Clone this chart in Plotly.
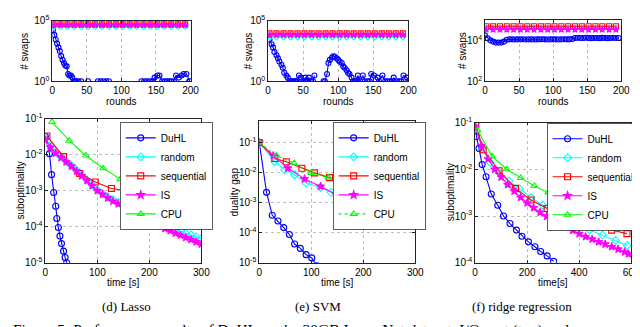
import plotly.graph_objects as go

W, H = 640, 327

# ---------------- top row: number of swaps per round ----------------
top_rounds = [2, 12, 22, 32, 42, 52, 62, 72, 82, 92, 102, 112, 122, 132, 142, 152, 162, 172, 182, 192]

# (a) Lasso swaps
lasso_sw_random = [35000, 35000, 35000, 35000, 35000, 35000, 35000, 35000, 35000, 35000,
                   35000, 35000, 35000, 35000, 35000, 35000, 35000, 35000, 35000, 35000]
lasso_sw_seq = [50000, 50000, 50000, 50000, 50000, 50000, 50000, 50000, 50000, 50000,
                50000, 50000, 50000, 50000, 50000, 50000, 50000, 50000, 50000, 50000]
lasso_sw_is = [45000, 45000, 45000, 45000, 45000, 45000, 45000, 45000, 45000, 45000,
               45000, 45000, 45000, 45000, 45000, 45000, 45000, 45000, 45000, 45000]
lasso_duhl_rounds = [1, 3, 5, 7, 9, 11, 13, 15, 17, 19, 21, 23, 25, 27, 29, 31, 33, 35, 38, 40,
                     42, 45, 52, 58, 66, 70, 74, 78, 82, 90, 129, 133, 137, 141, 145, 148, 152, 155, 159, 163,
                     166, 169, 172, 176, 179, 183, 187, 190, 194, 198, 199]
lasso_sw_duhl = [16600, 6800, 2800, 1300, 630, 310, 120, 58, 32, 20, 17, 4, 3, 3, 2, 1, 1, 1, 1, None,
                 1, None, 1, None, 1, 1, 1, 1, 1, None, 1, 1, 1, 1, 1, 2, 3, 3, 1, 1,
                 1, 1, 1, 1, 3, 2, 3, 4, 4, 1, 1]

# (b) SVM swaps
svm_sw_random = [4800, 4800, 4800, 4800, 4800, 4800, 4800, 4800, 4800, 4800,
                 4800, 4800, 4800, 4800, 4800, 4800, 4800, 4800, 4800, 4800]
svm_sw_seq = [9000, 9000, 9000, 9000, 9000, 9000, 9000, 9000, 9000, 9000,
              9000, 9000, 9000, 9000, 9000, 9000, 9000, 9000, 9000, 9000]
svm_sw_is = [6800, 6800, 6800, 6800, 6800, 6800, 6800, 6800, 6800, 6800,
             6800, 6800, 6800, 6800, 6800, 6800, 6800, 6800, 6800, 6800]
svm_duhl_rounds = [2, 5, 7, 9, 12, 14, 16, 19, 21, 23, 26, 28, 30, 32, 34, 36, 38, 40, 42, 44,
                   47, 50, 53, 56, 58, 61, 64, 66, 72, 79, 81, 84, 86, 88, 91, 93, 95, 98, 100, 102,
                   105, 107, 109, 112, 114, 116, 119, 121, 124, 126, 128, 131, 135, 138, 142, 145, 147, 151, 156, 158,
                   163, 167, 170, 173, 177, 179, 183, 187, 190, 193, 198, 200]
svm_sw_duhl = [2800, 1150, 630, 260, 140, 78, 43, 23, 13, 5, 3, 2, 1, 1, 1, 1, 1, 1, 1, 3,
               2, 1, 2, 1, 2, 1, 1, 3, None, 1, 1, 4, 32, 58, 93, 117, 105, 78, 58, 43,
               32, 17, 13, 8, 5, 4, 2, 1, 1, 1, 3, 1, 3, 1, 1, 1, 4, 3, 2, 1,
               3, 1, 1, 1, 1, 2, 1, 1, 1, 3, 2, 1]

# (c) ridge regression swaps
ridge_sw_random = [42000, 42000, 42000, 42000, 42000, 42000, 42000, 42000, 42000, 42000,
                   42000, 42000, 42000, 42000, 42000, 42000, 42000, 42000, 42000, 42000]
ridge_sw_seq = [54000, 54000, 54000, 54000, 54000, 54000, 54000, 54000, 54000, 54000,
                54000, 54000, 54000, 54000, 54000, 54000, 54000, 54000, 54000, 54000]
ridge_sw_is = [37000, 37000, 37000, 37000, 37000, 37000, 37000, 37000, 37000, 37000,
               37000, 37000, 37000, 37000, 37000, 37000, 37000, 37000, 37000, 37000]
ridge_duhl_rounds = [0, 4, 8, 12, 16, 20, 24, 28, 32, 36, 40, 44, 48, 52, 56, 60, 64, 68, 72, 76,
                     80, 84, 88, 92, 96, 100, 104, 108, 112, 116, 120, 124, 128, 132, 136, 140, 144, 148, 152, 156,
                     160, 164, 168, 172, 176, 180, 184, 188, 192, 196]
ridge_sw_duhl = [19000, 13500, 10700, 9300, 8300, 8300, 8300, 9300, 11500, 12000,
                 12000, 11800, 12000, 12000, 12200, 11800, 12000, 12000, 11800, 12000,
                 12000, 12200, 12000, 11800, 12000, 12000, 12000, 11800, 12000, 12200,
                 12000, 12000, 12500, 14000, 14500, 14000, 14000, 14500, 14000, 13800,
                 14000, 14000, 13800, 14200, 14000, 13800, 14000, 14500, 14000, 14000]

# ---------------- bottom row: convergence vs time ----------------
# (d) Lasso suboptimality
lasso_duhl_t = [0, 8, 12, 16, 20, 22, 25, 28, 31, 35, 38, 41, 44]
lasso_duhl = [3.2e-2, 1.07e-2, 2.8e-3, 8.9e-4, 3.7e-4, 1.7e-4, 9.5e-5, 5.5e-5, 3.4e-5, 2.1e-5, 1.4e-5, 1.0e-5, 6e-6]
lasso_rand_t = [0, 10, 20, 30, 40, 50, 60, 70, 80, 90, 100, 110, 120, 130, 140, 150,
                160, 170, 180, 190, 200, 210, 220, 230, 240, 250, 260, 270, 280, 290, 300]
lasso_rand = [2.8e-2, 1.8e-2, 1.2e-2, 8.9e-3, 6.6e-3, 5.0e-3, 3.7e-3, 2.75e-3, 2.0e-3, 1.45e-3, 1.05e-3,
              8.3e-4, 6.8e-4, 5.6e-4, 4.7e-4, 4.0e-4, 3.3e-4, 2.8e-4, 2.4e-4, 2.04e-4, 1.74e-4,
              1.48e-4, 1.29e-4, 1.12e-4, 9.8e-5, 8.5e-5, 7.6e-5, 6.6e-5, 5.9e-5, 5.2e-5, 4.7e-5]
lasso_is_t = lasso_rand_t
lasso_is = [2.6e-2, 1.6e-2, 1.1e-2, 8.3e-3, 6.3e-3, 4.8e-3, 3.5e-3, 2.6e-3, 1.9e-3, 1.38e-3, 1.0e-3,
            7.9e-4, 6.3e-4, 5.1e-4, 4.3e-4, 3.5e-4, 2.95e-4, 2.5e-4, 2.1e-4, 1.74e-4, 1.45e-4,
            1.23e-4, 1.05e-4, 8.9e-5, 7.8e-5, 6.6e-5, 5.8e-5, 5.0e-5, 4.4e-5, 3.8e-5, 3.3e-5]
lasso_seq_t = [3, 35, 66, 96, 127, 159, 188, 220, 251, 282, 300]
lasso_seq = [3.3e-2, 8.9e-3, 3.0e-3, 1.74e-3, 1.15e-3, 9.8e-4, 7.9e-4, 7.2e-4, 6.5e-4, 6.2e-4, 5.6e-4]
lasso_cpu_t = [13, 46, 78, 111, 144, 179, 212, 245, 278, 300]
lasso_cpu = [8.1e-2, 2.45e-2, 9.5e-3, 4.2e-3, 2.1e-3, 1.1e-3, 5.6e-4, 2.8e-4, 1.38e-4, 9.5e-5]

# (e) SVM duality gap
svm_duhl_t = [0, 14, 25, 36, 47, 58, 68, 79, 90, 101, 110]
svm_duhl = [1.0e-1, 2.2e-3, 3.8e-4, 2.45e-4, 1.48e-4, 8.7e-5, 4.2e-5, 3.0e-5, 1.86e-5, 1.45e-5, 8e-6]
svm_rand_t = [0, 30, 49, 68, 90, 118, 138, 157, 179, 200, 236, 271, 300]
svm_rand = [1.0e-1, 2.3e-2, 1.23e-2, 8.5e-3, 4.5e-3, 3.2e-3, 2.2e-3, 1.55e-3, 1.2e-3, 9.3e-4, 5.8e-4, 4.5e-4, 4.0e-4]
svm_seq_t = [0, 30, 52, 82, 106, 135, 163, 192, 223, 259, 287, 300]
svm_seq = [1.0e-1, 2.95e-2, 2.3e-2, 1.4e-2, 9.8e-3, 6.8e-3, 4.5e-3, 3.5e-3, 3.2e-3, 2.8e-3, 2.5e-3, 2.4e-3]
svm_is_t = [0, 27, 55, 87, 118, 147, 179, 208, 238, 271, 300]
svm_is = [1.0e-1, 3.7e-2, 1.4e-2, 6.2e-3, 3.5e-3, 1.95e-3, 1.35e-3, 1.12e-3, 4.9e-4, 3.5e-4, 2.75e-4]
svm_cpu_t = [0, 33, 67, 100, 133, 166, 200, 233, 265, 297]
svm_cpu = [1.0e-1, 3.7e-2, 2.05e-2, 9.8e-3, 6.8e-3, 4.1e-3, 2.4e-3, 2.25e-3, 1.2e-3, 1.07e-3]

# (f) ridge regression suboptimality
ridge_duhl_t = [2, 5, 15, 27, 42, 62, 87, 109, 134, 159, 180, 205, 230, 252, 277, 302]
ridge_duhl = [9.5e-2, 5.0e-2, 2.8e-2, 1.26e-2, 6.9e-3, 2.95e-3, 1.7e-3, 1.0e-3, 6.9e-4, 5.0e-4,
              3.7e-4, 2.8e-4, 2.2e-4, 1.74e-4, 1.4e-4, 1.07e-4]
ridge_rand_t = [2, 28, 58, 90, 130, 170, 215, 260, 305, 350, 395, 440, 490, 540, 585]
ridge_rand = [7.9e-2, 2.8e-2, 1.4e-2, 8.9e-3, 5.6e-3, 3.8e-3, 2.5e-3, 1.7e-3, 1.17e-3, 8.5e-4,
              6.3e-4, 5.0e-4, 3.9e-4, 3.0e-4, 2.35e-4]
ridge_seq_t = [2, 31, 92, 155, 215, 277, 340, 400, 462, 525, 584]
ridge_seq = [9.3e-2, 2.6e-2, 9.3e-3, 3.9e-3, 2.2e-3, 1.45e-3, 1.0e-3, 7.9e-4, 6.2e-4, 5.0e-4, 4.2e-4]
ridge_is_t = [0, 25, 50, 75, 100, 125, 150, 175, 200, 225, 250, 275, 300, 325, 350, 375, 400,
              425, 450, 475, 500, 525, 550, 575, 590]
ridge_is = [7.9e-2, 3.2e-2, 1.66e-2, 1.0e-2, 6.8e-3, 4.7e-3, 3.4e-3, 2.5e-3, 1.9e-3, 1.5e-3, 1.2e-3,
            9.8e-4, 7.9e-4, 6.8e-4, 5.75e-4, 4.9e-4, 4.2e-4, 3.6e-4, 3.2e-4, 2.8e-4, 2.5e-4,
            2.2e-4, 1.95e-4, 1.7e-4, 1.55e-4]
ridge_cpu_t = [9, 65, 121, 175, 228, 281, 334, 390, 443, 496, 550, 600]
ridge_cpu = [6.9e-2, 1.9e-2, 1.0e-2, 6.5e-3, 4.4e-3, 3.2e-3, 2.35e-3, 1.74e-3, 1.32e-3, 1.05e-3, 8.1e-4, 6.5e-4]

names = ['DuHL', 'random', 'sequential', 'IS', 'CPU']
colors = {'DuHL': '#0000ff', 'random': '#00ffff', 'sequential': '#ff0000', 'IS': '#ff00ff', 'CPU': '#00ff00'}
symbols = {'DuHL': 'circle-open', 'random': 'diamond-open', 'sequential': 'square-open',
           'IS': 'star', 'CPU': 'triangle-up-open'}

# panel boxes in pixels: (left, right, top, bottom)
boxes = {
    1: (42, 183, 6, 69),
    2: (262, 405, 6, 69),
    3: (483, 622, 5, 69),
    4: (35, 194, 108, 258),
    5: (253, 412, 110, 258),
    6: (473, 632, 112, 258),
}


def fx(p):
    return p / W


def fy(p):
    return 1 - p / H


fig = go.Figure()


def add(n, name, x, y, size, legend=None, dash='solid'):
    fig.add_trace(go.Scatter(
        x=x, y=y, mode='lines+markers', name=name,
        xaxis='x' if n == 1 else 'x%d' % n, yaxis='y' if n == 1 else 'y%d' % n,
        line=dict(color=colors[name], width=1.1, dash=dash),
        marker=dict(symbol=symbols[name], color=colors[name], size=size,
                    line=dict(color=colors[name], width=1.1)),
        showlegend=legend is not None, legend=legend or 'legend',
        connectgaps=False, cliponaxis=True,
    ))


# top row
for n, dr, dv, rv, sv, iv in [
    (1, lasso_duhl_rounds, lasso_sw_duhl, lasso_sw_random, lasso_sw_seq, lasso_sw_is),
    (2, svm_duhl_rounds, svm_sw_duhl, svm_sw_random, svm_sw_seq, svm_sw_is),
    (3, ridge_duhl_rounds, ridge_sw_duhl, ridge_sw_random, ridge_sw_seq, ridge_sw_is),
]:
    add(n, 'DuHL', dr, dv, 5)
    add(n, 'random', top_rounds, rv, 5)
    add(n, 'sequential', top_rounds, sv, 5)
    add(n, 'IS', top_rounds, iv, 5)

# bottom row
bottom = [
    (4, 'legend', [(lasso_duhl_t, lasso_duhl), (lasso_rand_t, lasso_rand), (lasso_seq_t, lasso_seq),
                   (lasso_is_t, lasso_is), (lasso_cpu_t, lasso_cpu)]),
    (5, 'legend2', [(svm_duhl_t, svm_duhl), (svm_rand_t, svm_rand), (svm_seq_t, svm_seq),
                    (svm_is_t, svm_is), (svm_cpu_t, svm_cpu)]),
    (6, 'legend3', [(ridge_duhl_t, ridge_duhl), (ridge_rand_t, ridge_rand), (ridge_seq_t, ridge_seq),
                    (ridge_is_t, ridge_is), (ridge_cpu_t, ridge_cpu)]),
]
for n, leg, series in bottom:
    for name, (t, v) in zip(names, series):
        dash = 'dot' if (n == 5 and name == 'CPU') else 'solid'
        add(n, name, t, v, 6, legend=leg, dash=dash)

axis_common = dict(showline=True, linecolor='#222', linewidth=0.8, mirror='ticks', ticks='inside',
                   ticklen=3, tickcolor='#222', showgrid=True, gridcolor='#bdbdbd', griddash='dot',
                   gridwidth=0.7, zeroline=False, tickfont=dict(size=10, color='black'))


def sup(p):
    return '10<sup>%s</sup>' % (str(p) if p >= 0 else '-' + str(-p))


x_ranges = {1: [0, 200], 2: [0, 200], 3: [0, 200], 4: [0, 300], 5: [0, 300], 6: [0, 600]}
x_ticks = {1: [0, 50, 100, 150, 200], 2: [0, 50, 100, 150, 200], 3: [0, 50, 100, 150, 200],
           4: [0, 100, 200, 300], 5: [0, 100, 200, 300], 6: [0, 200, 400, 600]}
y_ranges = {1: [0, 5], 2: [0, 5], 3: [2, 5.05], 4: [-5, -1], 5: [-5, -0.27], 6: [-4, -1]}
y_exps = {1: [0, 5], 2: [0, 5], 3: [2, 4], 4: [-5, -4, -3, -2, -1], 5: [-5, -4, -3, -2, -1], 6: [-4, -3, -2, -1]}

layout = {}
for n, (l, r, t, b) in boxes.items():
    xk = 'xaxis' if n == 1 else 'xaxis%d' % n
    yk = 'yaxis' if n == 1 else 'yaxis%d' % n
    layout[xk] = dict(axis_common, domain=[fx(l), fx(r)], range=x_ranges[n], tickvals=x_ticks[n],
                      anchor='y' if n == 1 else 'y%d' % n)
    layout[yk] = dict(axis_common, domain=[fy(b), fy(t)], type='log', range=y_ranges[n],
                      tickvals=[10 ** e for e in y_exps[n]], ticktext=[sup(e) for e in y_exps[n]],
                      anchor='x' if n == 1 else 'x%d' % n)

legend_common = dict(xanchor='left', yanchor='top', bgcolor='white', bordercolor='#333', borderwidth=0.8,
                     font=dict(size=10, color='black'), itemwidth=30, tracegroupgap=0)
layout['legend'] = dict(legend_common, x=fx(111), y=fy(112))
layout['legend2'] = dict(legend_common, x=fx(328), y=fy(112))
layout['legend3'] = dict(legend_common, x=fx(546), y=fy(113))

annotations = []
# axis titles
for n, (l, r, t, b) in boxes.items():
    xt = 'rounds' if n <= 3 else ('time[s]' if n == 6 else 'time [s]')
    annotations.append(dict(text=xt, x=fx((l + r) / 2), y=fy(b + 21),
                            xref='paper', yref='paper', showarrow=False, xanchor='center', yanchor='middle',
                            font=dict(size=10)))
y_titles = {1: ('# swaps', 13), 2: ('# swaps', 242), 3: ('# swaps', 460),
            4: ('suboptimality', 10), 5: ('duality gap', 228), 6: ('suboptimality', 448)}
for n, (txt, xp) in y_titles.items():
    l, r, t, b = boxes[n]
    annotations.append(dict(text=txt, x=fx(xp), y=fy((t + b) / 2), xref='paper', yref='paper',
                            showarrow=False, textangle=-90, xanchor='center', yanchor='middle',
                            font=dict(size=10)))
# sub-captions
for txt, xp in [('(d) Lasso', 118), ('(e) SVM', 313), ('(f) ridge regression', 521)]:
    annotations.append(dict(text=txt, x=fx(xp), y=fy(304), xref='paper', yref='paper', showarrow=False,
                            xanchor='center', yanchor='middle',
                            font=dict(family='Liberation Serif', size=13, color='black')))
annotations.append(dict(text='Figure 5: Performance results of DuHL on the 30GB ImageNet dataset. '
                             'I/O cost (top) and convergence (bottom)',
                        x=fx(0), y=fy(317), xref='paper', yref='paper', showarrow=False,
                        xanchor='left', yanchor='top',
                        font=dict(family='Liberation Serif', size=15.5, color='black')))

fig.update_layout(
    width=W, height=H,
    margin=dict(l=0, r=0, t=0, b=0),
    paper_bgcolor='white', plot_bgcolor='white',
    font=dict(family='Liberation Sans', size=10, color='black'),
    annotations=annotations,
    **layout
)

fig.write_html("out.html")
